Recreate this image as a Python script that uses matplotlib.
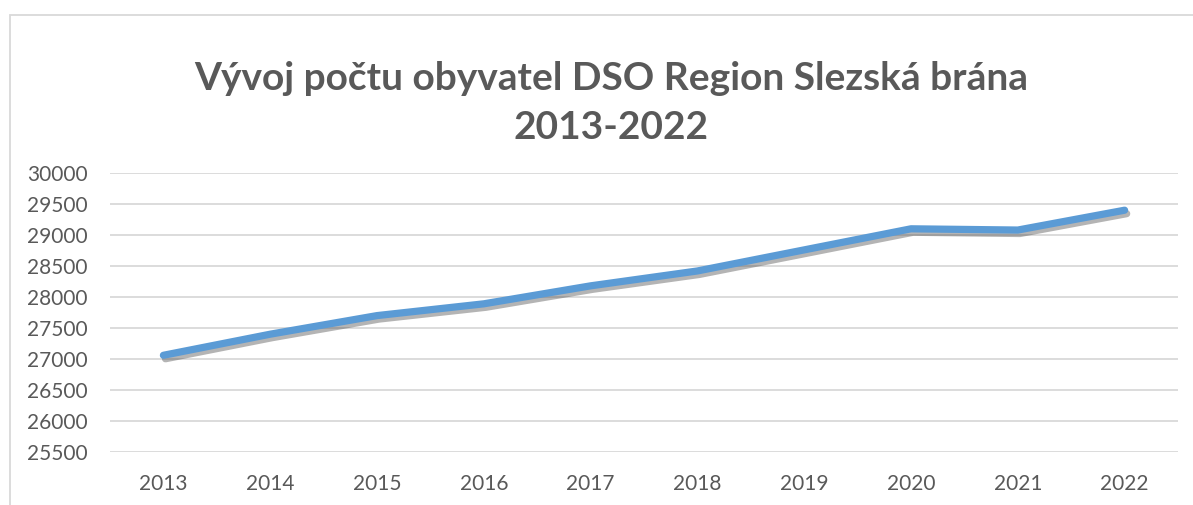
import matplotlib
matplotlib.use("Agg")
import matplotlib.pyplot as plt
import matplotlib.patheffects as pe
from matplotlib.patches import Rectangle

roky = ["2013", "2014", "2015", "2016", "2017", "2018", "2019", "2020", "2021", "2022"]
obyvatele = [27060, 27400, 27700, 27890, 28180, 28420, 28760, 29100, 29080, 29400]
y_ticks = list(range(25500, 30001, 500))

plt.rcParams['font.family'] = ['Lato', 'DejaVu Sans']
text_color = '#595959'

fig = plt.figure(figsize=(11.93, 5.05), dpi=100)
ax = fig.add_axes([110/1193, 1 - 452/505, 1068/1193, (452 - 173)/505])

x = range(len(roky))
ax.plot(x, obyvatele, color='#5B9BD5', linewidth=5.2, solid_capstyle='round',
        solid_joinstyle='round', zorder=3,
        path_effects=[pe.SimpleLineShadow(offset=(1.5, -2.5), shadow_color='#444444', alpha=0.4),
                      pe.Normal()])

ax.set_xlim(-0.5, len(roky) - 0.5)
ax.set_ylim(25500, 30000)
ax.set_yticks(y_ticks)
ax.set_yticklabels([str(v) for v in y_ticks])
ax.set_xticks(list(x))
ax.set_xticklabels(roky)
ax.tick_params(length=0, labelsize=15, labelcolor=text_color)
ax.tick_params(axis='y', pad=16)
ax.tick_params(axis='x', pad=16)
ax.grid(axis='y', color='#D9D9D9', linewidth=1.3)
ax.set_axisbelow(True)
for s in ax.spines.values():
    s.set_visible(False)

fig.text(0.512, 1 - 103/505, "Vývoj počtu obyvatel DSO Region Slezská brána\n2013-2022",
         ha='center', va='center', fontsize=28, fontweight='bold', color=text_color,
         linespacing=1.45)

fig.patches.append(Rectangle((10/1193, -0.1), 1.2, 1 - 15/505 + 0.1, transform=fig.transFigure,
                             fill=False, edgecolor='#D9D9D9', linewidth=1.3))

fig.savefig('out.png', dpi=100)
